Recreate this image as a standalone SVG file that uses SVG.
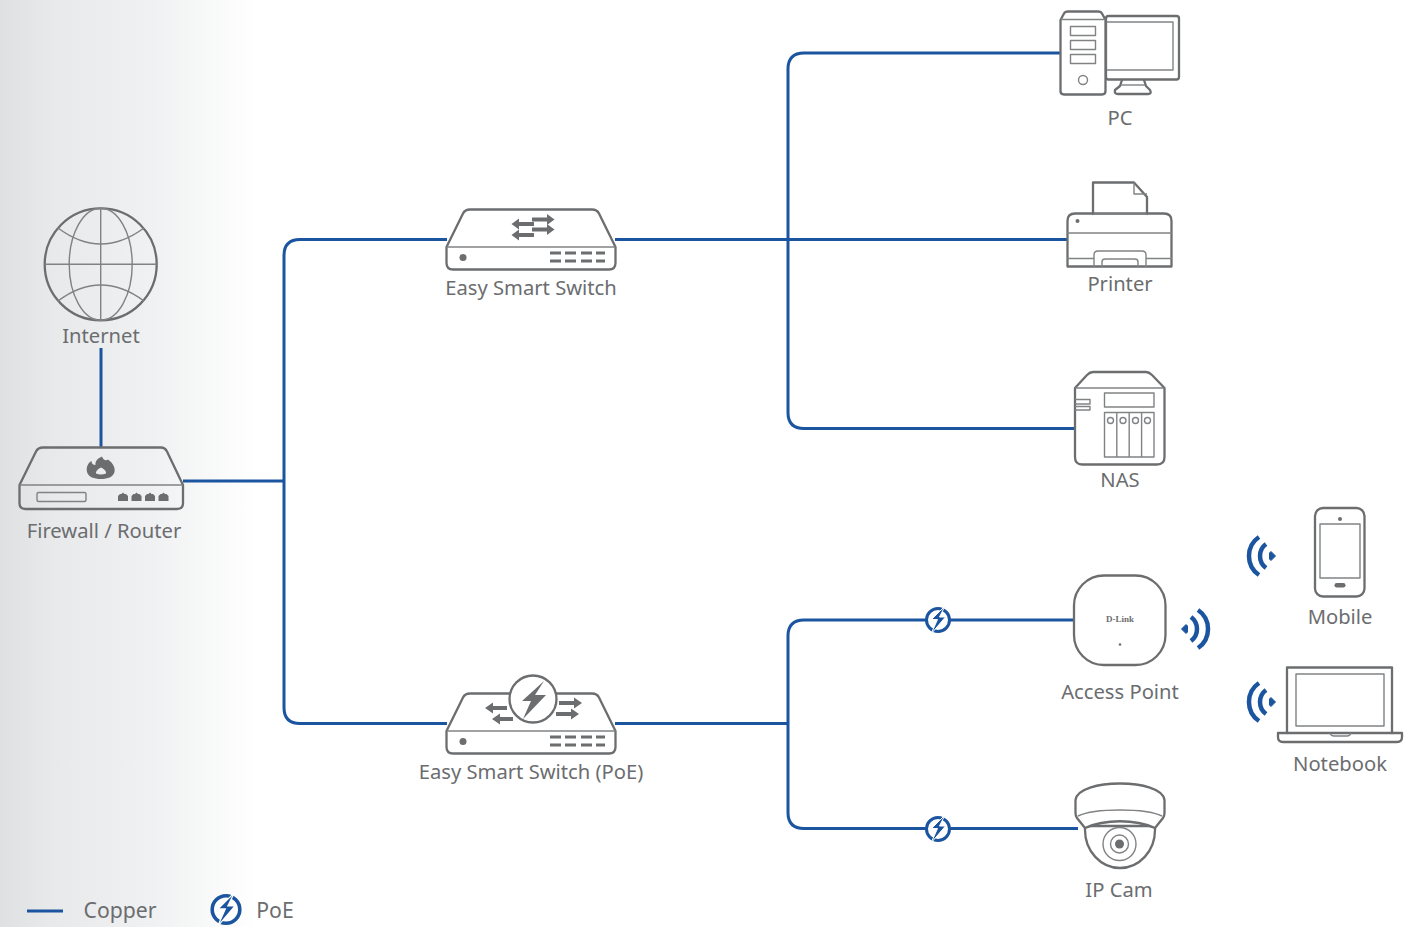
<svg xmlns="http://www.w3.org/2000/svg" xmlns:xlink="http://www.w3.org/1999/xlink" width="1420" height="927" viewBox="0 0 1420 927">
<style>
.lbl{font-family:"Noto Sans","Open Sans","DejaVu Sans",sans-serif;font-size:20.2px;fill:#6b6d6f;text-anchor:middle}
.o{fill:none;stroke:#6b6d6f;stroke-width:2.300;stroke-linejoin:round;stroke-linecap:round}
.bg{fill:#fff;stroke:#6b6d6f;stroke-width:2.300;stroke-linejoin:round}
.t{fill:none;stroke:#808284;stroke-width:1.400;stroke-linejoin:round}
.f{fill:#6b6d6f}
.w{fill:none;stroke:#1c559f;stroke-width:4.500}
.c{fill:none;stroke:#1c559f;stroke-width:3}
</style>
<defs>
<linearGradient id="shade" x1="0" x2="1" y1="0" y2="0">
<stop offset="0" stop-color="#dfe0e2"/><stop offset="0.2" stop-color="#e8e9ea"/><stop offset="0.6" stop-color="#f0f1f2"/><stop offset="1" stop-color="#fff"/>
</linearGradient>
<g id="wifi">
<path d="M-4.500 0L0-4.500L1.500-3V3L0 4.500Z" fill="#1c559f" stroke="#1c559f" stroke-width="1"/>
<path class="w" d="M5-12A15 15 0 0 1 5 12"/>
<path class="w" d="M12-19A23 23 0 0 1 12 19"/>
</g>
<g id="bolt">
<circle r="11.500" fill="#fff" stroke="#1c559f" stroke-width="3"/>
<path d="M7-14L-6.500-0.500H-0.500L-7 14L7.500-3H1.500Z" fill="#1c559f" stroke="#fff" stroke-width="1"/>
</g>
<g id="box">
<path class="bg" d="M0.500 38L17 4.500Q19 0.500 24 0.500H146Q151 0.500 153 4.500L169.500 38V54Q169.500 60.500 163 60.500H7Q0.500 60.500 0.500 54Z"/>
<path class="t" d="M0.500 38H169.500"/>
<circle class="f" cx="17" cy="48.500" r="3.500"/>
<path d="M104 44h11M104 52h11M119 44h11M119 52h11M135 44h11M135 52h11M150 44h9M150 52h9" stroke="#6b6d6f" stroke-width="3" fill="none"/>
</g>
</defs>
<rect width="1420" height="927" fill="#fff"/>
<rect width="256" height="927" fill="url(#shade)"/>

<g id="connectors">
<path class="c" d="M101 348V447"/>
<path class="c" d="M183 481H284"/>
<path class="c" d="M447 239.500H300Q284 239.500 284 255.500V707.500Q284 723.500 300 723.500H447"/>
<path class="c" d="M615 239.500H1067"/>
<path class="c" d="M1060 53H804Q788 53 788 69V412.500Q788 428.500 804 428.500H1075"/>
<path class="c" d="M615 723.500H788"/>
<path class="c" d="M1073 620H804Q788 620 788 636V812.500Q788 828.500 804 828.500H1078"/>
</g>

<g id="internet">
<circle class="o" cx="100.700" cy="264.300" r="56"/>
<path class="t" d="M100.700 208.300V320.300M44.700 264.300H156.700"/>
<ellipse class="t" cx="100.700" cy="264.300" rx="31.500" ry="56"/>
<path class="t" d="M58 228Q100.700 260 144 228M58 301Q100.700 269 144 301"/>
<text class="lbl" x="101" y="343">Internet</text>
</g>

<g id="firewall">
<path class="o" d="M19.500 485L36 451.500Q38 447.500 43 447.500H161Q165 447.500 167 451.500L183 485V503Q183 509 177 509H25.500Q19.500 509 19.500 503Z"/>
<path class="t" d="M19.500 485H183"/>
<rect class="t" x="37" y="492.500" width="49" height="9" rx="1.500"/>
<path class="f" d="M118 501v-5l2-2h1.500l1.500-1.500 1.500 1.500h1.500l2 2v5ZM131.500 501v-5l2-2h1.500l1.500-1.500 1.500 1.500h1.500l2 2v5ZM145 501v-5l2-2h1.500l1.500-1.500 1.500 1.500h1.500l2 2v5ZM158.500 501v-5l2-2h1.500l1.500-1.500 1.500 1.500h1.500l2 2v5Z"/>
<path class="f" fill-rule="evenodd" d="M102 456.500C103 460 106 461 108 459.500C113 463 115.500 468 114.500 472C113 477 108 479 101 479C94 479 88.500 477 87 472C86 467 88 463 91.500 461C91.500 463.500 93 465 95.500 465C95 461 98 458 102 456.500ZM101 467.500C98.500 468.500 95.500 471 96 473.500Q101 475.500 106 473.500C106.500 471 103.500 468.500 101 467.500Z"/>
<text class="lbl" x="104" y="538">Firewall / Router</text>
</g>

<g id="switch">
<use xlink:href="#box" href="#box" x="446" y="209"/>
<path class="f" d="M532 217.500H547v-3.500l7.500 5.500-7.500 5.500v-3.500H532ZM532 227.500H547v-3.500l7.500 5.500-7.500 5.500v-3.500H532Z"/>
<path class="f" d="M534 222H519v-3.500l-7.500 5.500 7.500 5.500v-3.500H534ZM534 233H519v-3.500l-7.500 5.500 7.500 5.500v-3.500H534Z"/>
<text class="lbl" x="531" y="295">Easy Smart Switch</text>
</g>

<g id="poe-switch">
<use xlink:href="#box" href="#box" x="446" y="693"/>
<path class="f" d="M559 701H574v-3.500l8 5.500-8 5.500v-3.500H559ZM556 712H571v-3.500l8 5.500-8 5.500v-3.500H556Z"/>
<path class="f" d="M507 706H493v-3.500l-8 5.500 8 5.500v-3.500H507ZM513 717H500v-3.500l-8 5.500 8 5.500v-3.500H513Z"/>
<circle cx="533" cy="699" r="23.500" fill="#fff" stroke="#6b6d6f" stroke-width="2.300"/>
<path class="f" d="M544 681L522 701H531L523 719L546 695H535Z"/>
<text class="lbl" x="531" y="779">Easy Smart Switch (PoE)</text>
</g>

<g id="pc">
<rect class="o" x="1106" y="16" width="73" height="63.500" rx="2.500"/>
<rect class="t" x="1106" y="22" width="67" height="48"/>
<path class="o" d="M1122 80L1120 86L1115 90Q1114 94 1118 94H1148Q1152 94 1150 90L1146 86L1144 80"/>
<path class="t" d="M1121 85H1145"/>
<path class="bg" d="M1060.500 20L1064 13.500Q1065 11.500 1068 11.500H1098Q1101 11.500 1102 13.500L1105.500 20V91Q1105.500 94.500 1102 94.500H1064Q1060.500 94.500 1060.500 91Z"/>
<path class="t" d="M1060.500 19.500H1105.500"/>
<rect class="t" x="1070.500" y="26.500" width="25" height="9"/>
<rect class="t" x="1070.500" y="40.500" width="25" height="9"/>
<rect class="t" x="1070.500" y="54.500" width="25" height="9"/>
<circle class="t" cx="1083" cy="80" r="4.500"/>
<text class="lbl" x="1120" y="125">PC</text>
</g>

<g id="printer">
<path class="o" d="M1093 214V182.500H1134L1147 197V214"/>
<path class="t" d="M1134 182.500V194H1147"/>
<path class="o" d="M1067.500 266.500V221Q1067.500 213.500 1075 213.500H1164Q1171.500 213.500 1171.500 221V266.500Z"/>
<path class="t" d="M1093 214H1147M1067 233H1172M1067 258.500H1094M1146 258.500H1172"/>
<path class="t" d="M1094 267V255Q1094 251 1098 251H1142Q1146 251 1146 255V267M1102 267V262Q1102 259 1105 259H1135Q1138 259 1138 262V267"/>
<circle class="f" cx="1077.500" cy="221" r="2"/>
<text class="lbl" x="1120" y="291">Printer</text>
</g>

<g id="nas">
<path class="o" d="M1075 388L1087 375Q1090 372 1093 372H1146Q1149 372 1152 375L1164.500 388V457Q1164.500 464.500 1157 464.500H1082Q1075 464.500 1075 457Z"/>
<path class="t" d="M1075 388H1164"/>
<rect class="t" x="1104.500" y="393" width="49.500" height="14"/>
<rect class="t" x="1104.500" y="412.500" width="49.500" height="44.500"/>
<path class="t" d="M1116.800 412.500V457M1129.200 412.500V457M1141.600 412.500V457"/>
<circle class="t" cx="1110.500" cy="420.500" r="3"/>
<circle class="t" cx="1123" cy="420.500" r="3"/>
<circle class="t" cx="1135.500" cy="420.500" r="3"/>
<circle class="t" cx="1147.500" cy="420.500" r="3"/>
<path class="t" d="M1075 399.500H1090V404H1075M1075 406.500H1090V410H1075"/>
<text class="lbl" x="1120" y="487">NAS</text>
</g>

<g id="access-point">
<rect class="o" x="1074" y="575.500" width="91.500" height="89.500" rx="30"/>
<text x="1120" y="622" font-family="'Liberation Serif',serif" font-weight="700" font-size="9" fill="#6b6d6f" text-anchor="middle">D-Link</text>
<circle class="f" cx="1120" cy="644.500" r="1.300"/>
<use xlink:href="#wifi" href="#wifi" x="1186" y="629"/>
<text class="lbl" x="1120" y="699">Access Point</text>
</g>

<g id="mobile">
<rect class="o" x="1315" y="508" width="49.500" height="88.500" rx="8"/>
<rect class="t" x="1320" y="524" width="40" height="54"/>
<circle class="f" cx="1340" cy="519" r="2"/>
<rect class="f" x="1334.500" y="583" width="11" height="4.500" rx="2.200"/>
<use xlink:href="#wifi" href="#wifi" transform="translate(1271 556) scale(-1 1)"/>
<text class="lbl" x="1340" y="624">Mobile</text>
</g>

<g id="notebook">
<path class="o" d="M1287 733V667.500H1392V733"/>
<rect class="t" x="1296" y="674" width="88" height="52"/>
<path class="o" d="M1278 733H1402V737Q1402 742 1397 742H1283Q1278 742 1278 737Z"/>
<path class="t" d="M1330 733Q1331 736 1334 736H1347Q1350 736 1351 733"/>
<use xlink:href="#wifi" href="#wifi" transform="translate(1271 702) scale(-1 1)"/>
<text class="lbl" x="1340" y="771">Notebook</text>
</g>

<g id="ip-cam">
<path class="bg" d="M1085 826V830A35 38 0 0 0 1155 830V826Z"/>
<path class="bg" d="M1075.500 800C1078 778 1162 778 1164.500 800V813Q1164.500 816 1163 818L1155 828C1135 819 1105 819 1085 828L1077 818Q1075.500 816 1075.500 813Z"/>
<path class="t" d="M1078 816C1095 808 1145 808 1162 816"/>
<circle class="t" cx="1119.500" cy="844" r="16.500"/>
<circle class="t" cx="1119.500" cy="844" r="9"/>
<circle class="f" cx="1119.500" cy="844" r="4.500"/>
<text class="lbl" x="1119" y="897">IP Cam</text>
</g>

<g id="poe-badges">
<use xlink:href="#bolt" href="#bolt" x="938" y="620"/>
<use xlink:href="#bolt" href="#bolt" x="938" y="829"/>
</g>

<g id="legend">
<path class="c" d="M27 911H63"/>
<text class="lbl" x="120" y="918" style="font-size:21.200px">Copper</text>
<g transform="translate(226 909.500) scale(1.200)"><use xlink:href="#bolt" href="#bolt"/></g>
<text class="lbl" x="275" y="918" style="font-size:21.200px">PoE</text>
</g>
</svg>
